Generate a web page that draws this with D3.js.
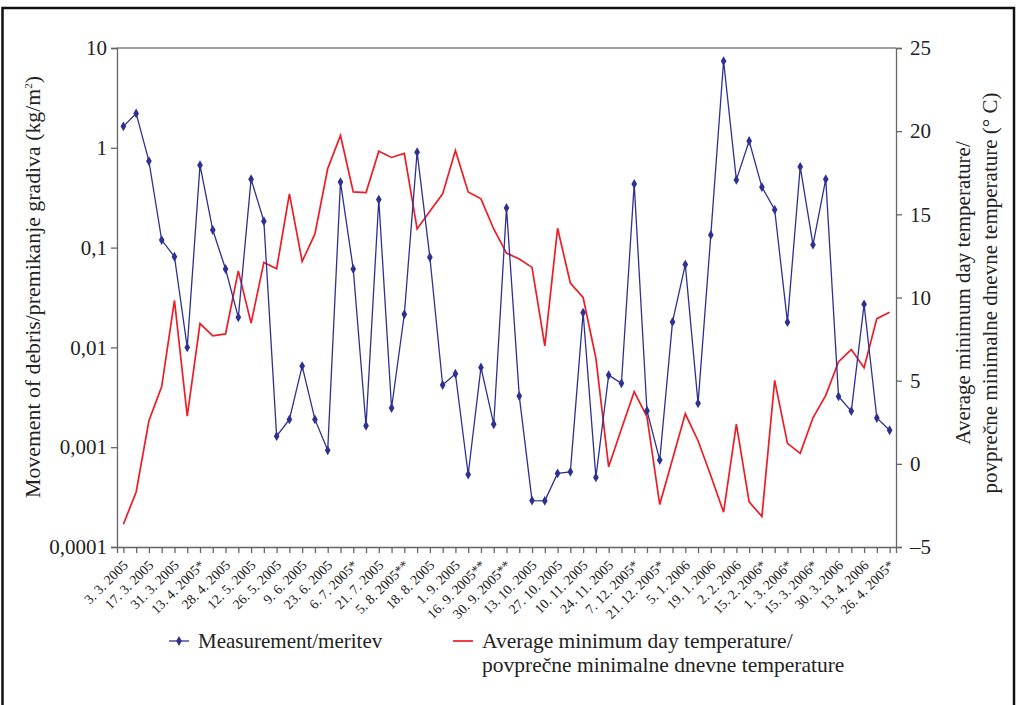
<!DOCTYPE html>
<html>

<head>
    <meta charset="utf-8">
    <style>
        body {
            margin: 0;
            background: white;
        }

        svg {
            overflow: visible;
            font-family: 'Liberation Serif', 'Times New Roman', serif;
        }
    </style>
</head>

<body>
    <svg width="1017" height="705"></svg>
</body>

<script src="https://d3js.org/d3.v7.min.js"></script>

<script>
    // labels sit on every other sampling date
    let dateLabels = ["3. 3. 2005", "17. 3. 2005", "31. 3. 2005", "13. 4. 2005*", "28. 4. 2005",
        "12. 5. 2005", "26. 5. 2005", "9. 6. 2005", "23. 6. 2005", "6. 7. 2005*", "21. 7. 2005",
        "5. 8. 2005**", "18. 8. 2005", "1. 9. 2005", "16. 9. 2005**", "30. 9. 2005**", "13. 10. 2005",
        "27. 10. 2005", "10. 11. 2005", "24. 11. 2005", "7. 12. 2005*", "21. 12. 2005*", "5. 1. 2006",
        "19. 1. 2006", "2. 2. 2006", "15. 2. 2006*", "1. 3. 2006*", "15. 3. 2006*", "30. 3. 2006",
        "13. 4. 2006", "26. 4. 2005*"]

    // movement of debris (kg/m2), log axis
    let measurement = [1.64, 2.21, 0.736, 0.119, 0.081, 0.01, 0.67, 0.15, 0.061, 0.02,
        0.485, 0.184, 0.00129, 0.0019, 0.0065, 0.0019, 0.00093, 0.453, 0.061, 0.00164,
        0.303, 0.00247, 0.0215, 0.905, 0.080, 0.0042, 0.00545, 0.000533, 0.0063, 0.0017,
        0.25, 0.00325, 0.000292, 0.00029, 0.000546, 0.000566, 0.0223, 0.000498, 0.00528, 0.00437,
        0.435, 0.00232, 0.000743, 0.018, 0.0676, 0.00275, 0.134, 7.4, 0.477, 1.17,
        0.404, 0.24, 0.0179, 0.645, 0.107, 0.485, 0.00323, 0.0023, 0.027, 0.00196,
        0.00148]

    // average minimum day temperature (°C)
    let temperature = [-3.63, -1.69, 2.59, 4.64, 9.82, 2.87, 8.43, 7.69, 7.81, 11.6,
        8.46, 12.11, 11.73, 16.23, 12.17, 13.82, 17.75, 19.74, 16.35, 16.31,
        18.8, 18.42, 18.66, 14.12, 15.18, 16.23, 18.84, 16.35, 15.93, 14.12,
        12.67, 12.31, 11.81, 7.09, 14.16, 10.87, 10.0, 6.35, -0.18, 2.1,
        4.34, 2.83, -2.45, 0.27, 3.01, 1.39, -0.72, -2.91, 2.39, -2.29,
        -3.17, 5.02, 1.23, 0.63, 2.77, 4.12, 6.14, 6.87, 5.78, 8.73,
        9.12]

    let leftTicks = [0.0001, 0.001, 0.01, 0.1, 1, 10]
    let rightTicks = [-5, 0, 5, 10, 15, 20, 25]

    let blue = "#2e3192"
    let red = "#ee1c25"
    let axisColor = "#666"

    let plotLeft = 117, plotRight = 896, plotTop = 48, plotBottom = 547

    let svg = d3.select("svg")

    // outer frame
    svg.append("rect")
        .attr("x", 2.5)
        .attr("y", 8)
        .attr("width", 1011.5)
        .attr("height", 760)
        .style("fill", "none")
        .style("stroke", "#111")
        .style("stroke-width", 2.5)

    let x = d3.scalePoint()
        .domain(d3.range(measurement.length))
        .range([plotLeft, plotRight])
        .padding(0.5)

    let yL = d3.scaleLog()
        .domain([0.0001, 10])
        .range([plotBottom, plotTop])

    let yR = d3.scaleLinear()
        .domain([-5, 25])
        .range([plotBottom, plotTop])

    // top border of plot
    svg.append("line")
        .attr("x1", plotLeft).attr("x2", plotRight)
        .attr("y1", plotTop).attr("y2", plotTop)
        .style("stroke", "#444")
        .style("stroke-width", 1.2)

    let leftAxis = svg.append("g")
        .attr("transform", "translate(" + plotLeft + ",0)")
        .call(d3.axisLeft(yL)
            .tickValues(leftTicks)
            .tickSizeOuter(0)
            .tickSize(6)
            .tickPadding(4)
            .tickFormat(d => String(d).replace(".", ",")))

    let rightAxis = svg.append("g")
        .attr("transform", "translate(" + plotRight + ",0)")
        .call(d3.axisRight(yR)
            .tickValues(rightTicks)
            .tickSizeOuter(0)
            .tickSize(6)
            .tickPadding(8)
            .tickFormat(d => d < 0 ? "–" + Math.abs(d) : d))

    let bottomAxis = svg.append("g")
        .attr("transform", "translate(0," + plotBottom + ")")
        .call(d3.axisBottom(x)
            .tickSizeOuter(0)
            .tickSize(6)
            .tickFormat(i => i % 2 == 0 ? dateLabels[i / 2] : ""))

    bottomAxis.selectAll("text")
        .attr("y", 0)
        .attr("dy", 0)
        .attr("transform", d => "translate(5,19) rotate(-45)")
        .style("text-anchor", "end")
        .style("font-size", "13.8px")

    let axes = [leftAxis, rightAxis, bottomAxis]
    axes.forEach(a => {
        a.selectAll("path, line")
            .style("stroke", axisColor)
            .style("stroke-width", 1.3)
        a.selectAll("text")
            .style("fill", "#222")
            .style("font-family", "'Liberation Serif', serif")
    })
    leftAxis.selectAll("text").style("font-size", "21px")
    rightAxis.selectAll("text").style("font-size", "21px")

    // temperature line
    let tempLine = d3.line()
        .x((d, i) => x(i))
        .y(d => yR(d))

    svg.append("path")
        .datum(temperature)
        .attr("d", tempLine)
        .style("fill", "none")
        .style("stroke", red)
        .style("stroke-width", 1.7)

    // measurement line + markers
    let measLine = d3.line()
        .x((d, i) => x(i))
        .y(d => yL(d))

    svg.append("path")
        .datum(measurement)
        .attr("d", measLine)
        .style("fill", "none")
        .style("stroke", blue)
        .style("stroke-width", 1.3)

    let diamond = d3.symbol().type(d3.symbolDiamond).size(28)

    svg.append("g")
        .selectAll("path")
        .data(measurement)
        .join("path")
        .attr("d", diamond)
        .attr("transform", (d, i) => "translate(" + x(i) + "," + yL(d) + ")")
        .style("fill", blue)

    // axis titles
    svg.append("text")
        .attr("transform", "translate(40,287) rotate(-90)")
        .style("text-anchor", "middle")
        .style("font-size", "21.8px")
        .style("fill", "#222")
        .html("Movement of debris/premikanje gradiva (kg/m<tspan dy='-8' font-size='11px'>2</tspan><tspan dy='8'>)</tspan>")

    let rightTitle = svg.append("text")
        .attr("transform", "translate(970,293) rotate(-90)")
        .style("text-anchor", "middle")
        .style("font-size", "21px")
        .style("fill", "#222")

    rightTitle.append("tspan")
        .attr("x", 0).attr("y", 0)
        .text("Average minimum day temperature/")
    rightTitle.append("tspan")
        .attr("x", 0).attr("y", 27)
        .text("povprečne minimalne dnevne temperature (° C)")

    // legend
    let legend = svg.append("g")

    legend.append("line")
        .attr("x1", 169).attr("x2", 189)
        .attr("y1", 641).attr("y2", 641)
        .style("stroke", blue)
        .style("stroke-width", 1.3)
    legend.append("path")
        .attr("d", diamond)
        .attr("transform", "translate(179,641)")
        .style("fill", blue)
    legend.append("text")
        .attr("x", 198).attr("y", 648)
        .style("font-size", "21px")
        .style("fill", "#222")
        .text("Measurement/meritev")

    legend.append("line")
        .attr("x1", 453).attr("x2", 473)
        .attr("y1", 641).attr("y2", 641)
        .style("stroke", red)
        .style("stroke-width", 1.7)
    let redLabel = legend.append("text")
        .style("font-size", "21.5px")
        .style("fill", "#222")
    redLabel.append("tspan")
        .attr("x", 482).attr("y", 648)
        .text("Average minimum day temperature/")
    redLabel.append("tspan")
        .attr("x", 482).attr("y", 672)
        .text("povprečne minimalne dnevne temperature")
</script>

</html>
